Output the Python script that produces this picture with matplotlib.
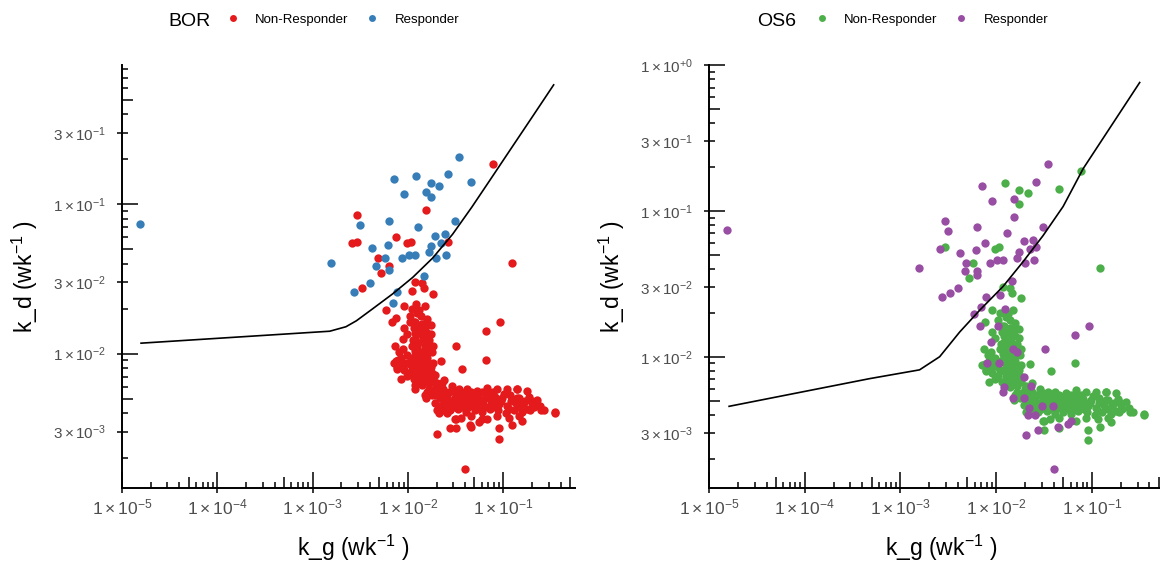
import numpy as np
import matplotlib
matplotlib.use("Agg")
import matplotlib.pyplot as plt
from matplotlib.lines import Line2D
from matplotlib.ticker import NullLocator

plt.rcParams['font.family'] = ['Liberation Sans', 'DejaVu Sans']
plt.rcParams['mathtext.fontset'] = 'custom'
plt.rcParams['mathtext.rm'] = 'Liberation Sans'
plt.rcParams['mathtext.it'] = 'Liberation Sans:italic'
plt.rcParams['mathtext.bf'] = 'Liberation Sans:bold'

# Data: log10 of growth (k_g) and decay (k_d) rates
# responder flags: 1 = Responder, 0 = Non-Responder
log_kg = [
    # scattered points in the upper part
    -4.81, -1.46, -1.11, -2.15, -1.91, -1.58, -1.34, -1.76, -1.67, -2.04,
    -1.81, -1.76, -2.20, -2.53, -2.50, -1.89, -1.51, -1.81, -2.38, -2.21,
    -1.71, -1.61, -1.76, -1.65, -2.59, -2.53, -2.12, -2.01, -1.97, -1.58,
    -2.81, -2.24, -2.31, -2.33, -2.20, -2.28, -2.20, -2.06, -1.99, -1.93,
    -1.78, -1.70, -1.60, -0.91, -1.83, -2.40, -2.48, -2.57, -2.11, -1.93,
    -1.85, -1.83, -1.96, -1.74, -2.16, -1.91, -2.23, -1.90, -2.17, -2.12,
    -1.03, -2.04, -1.98, -1.92, -1.85, -1.18,
    # dense cluster, vertical part
    -2.04, -1.96, -1.88, -1.82, -1.98, -1.86, -1.80, -1.94, -1.88, -1.82,
    -1.76, -2.01, -1.92, -1.84, -1.78,
    -2.13, -2.05, -1.96, -1.90, -1.84, -1.75, -2.09, -2.01, -1.92, -1.86,
    -1.80, -2.15, -2.07, -1.88, -1.81, -1.74,
    -2.11, -2.04, -1.96, -1.90, -1.84, -1.78, -2.01, -1.94, -1.88, -1.81,
    -1.74, -2.07, -1.69, -1.62,
    # dense cluster, horizontal part
    -1.78, -1.70, -1.63, -1.54, -1.46, -1.38, -1.27, -1.17, -1.06, -0.96,
    -0.85, -0.75,
    -1.75, -1.59, -1.50, -1.43, -1.35, -1.26, -1.18, -1.09, -1.01, -0.93,
    -0.83, -0.73, -0.64,
    -1.71, -1.62, -1.57, -1.46, -1.36, -1.29, -1.21, -1.13, -1.04, -0.96,
    -0.87, -0.79, -0.70, -0.61,
    -1.63, -1.56, -1.47, -1.39, -1.30, -1.22, -1.14, -1.05, -0.97, -0.89,
    -0.80, -0.72, -0.57, -0.46,
    -1.50, -1.44, -1.34, -1.17, -1.06, -0.94, -0.83,
    -1.50, -1.04, -1.04, -0.91, -0.80,
    -1.65, -1.43, -1.18, -0.85, -0.60,
    # cluster points that are OS6 responders
    -2.05, -1.82, -1.78, -1.49, -2.10, -1.97, -1.71, -1.92, -1.93, -1.64,
    -1.82, -1.71, -1.66, -1.59, -1.67, -1.52, -1.41, -1.35, -1.25, -1.22,
    -1.69, -1.56, -1.40,
    # more points inside the dense cluster
    -1.94, -1.89, -1.83, -1.76, -1.92, -1.86, -1.80, -1.95, -1.89, -1.81,
    -1.74, -1.93, -1.87, -1.79, -1.95, -1.90, -1.83, -1.76, -1.92, -1.86,
    -1.80, -1.98, -1.90, -1.83, -1.75,
    -2.12, -2.07, -2.02, -2.11, -2.05, -1.98,
    -1.85, -1.78, -1.71, -1.80, -1.73, -1.67, -1.62, -1.66, -1.60,
    -1.63, -1.57, -1.51, -1.45, -1.40, -1.34, -1.28, -1.22, -1.16, -1.11,
    -1.60, -1.53, -1.48, -1.43, -1.37, -1.31, -1.25, -1.19, -1.14, -1.08,
    -1.58, -1.51, -1.45, -1.39, -1.33, -1.27, -1.21, -1.15, -1.08, -1.02,
    -0.99, -0.92, -0.85, -0.77, -0.68, -0.75, -0.94, -0.83,
    -1.51, -1.34, -1.69, -1.81, -0.70, -0.46,
]
log_kd = [
    -1.13, -0.68, -0.73, -0.83, -0.81, -0.80, -0.85, -0.86, -0.88, -0.93,
    -0.92, -0.95, -1.11, -1.07, -1.14, -1.15, -1.11, -1.04, -1.29, -1.27,
    -1.21, -1.20, -1.28, -1.26, -1.26, -1.25, -1.22, -1.26, -1.25, -1.25,
    -1.39, -1.36, -1.36, -1.41, -1.41, -1.46, -1.44, -1.36, -1.34, -1.34,
    -1.32, -1.36, -1.34, -1.39, -1.48, -1.53, -1.56, -1.59, -1.59, -1.52,
    -1.53, -1.56, -1.58, -1.60, -1.66, -1.67, -1.71, -1.73, -1.79, -1.76,
    -1.79, -1.83, -1.79, -1.79, -1.80, -1.85,
    -1.68, -1.70, -1.71, -1.68, -1.75, -1.75, -1.77, -1.83, -1.85, -1.83,
    -1.87, -1.87, -1.90, -1.90, -1.91,
    -1.95, -1.97, -1.95, -1.96, -1.99, -1.99, -1.99, -2.01, -2.01, -2.03,
    -2.03, -2.06, -2.07, -2.06, -2.07, -2.06,
    -2.10, -2.11, -2.10, -2.13, -2.11, -2.15, -2.15, -2.17, -2.18, -2.19,
    -2.17, -2.17, -2.20, -2.18,
    -2.24, -2.22, -2.24, -2.22, -2.24, -2.24, -2.25, -2.23, -2.24, -2.24,
    -2.24, -2.25,
    -2.28, -2.29, -2.28, -2.30, -2.28, -2.30, -2.28, -2.29, -2.30, -2.28,
    -2.30, -2.29, -2.31,
    -2.33, -2.32, -2.32, -2.32, -2.32, -2.33, -2.34, -2.32, -2.34, -2.35,
    -2.33, -2.34, -2.33, -2.35,
    -2.38, -2.38, -2.37, -2.39, -2.38, -2.39, -2.37, -2.38, -2.40, -2.38,
    -2.39, -2.38, -2.38, -2.39,
    -2.44, -2.43, -2.42, -2.44, -2.42, -2.43, -2.42,
    -2.50, -2.50, -2.57, -2.48, -2.45,
    -2.05, -2.10, -2.04, -2.24, -2.38,
    -1.90, -1.95, -1.97, -1.95, -2.04, -2.04, -2.14, -2.21, -2.24, -2.20,
    -2.28, -2.28, -2.35, -2.40, -2.40, -2.34, -2.34, -2.48, -2.46, -2.44,
    -2.54, -2.50, -2.77,
    -1.79, -1.81, -1.80, -1.81, -1.86, -1.87, -1.86, -1.91, -1.93, -1.93,
    -1.95, -1.98, -1.99, -1.98, -2.03, -2.05, -2.05, -2.09, -2.09, -2.10,
    -2.11, -2.13, -2.15, -2.15, -2.13,
    -2.05, -2.03, -2.06, -2.09, -2.09, -2.07,
    -2.21, -2.20, -2.24, -2.26, -2.26, -2.25, -2.26, -2.30, -2.30,
    -2.27, -2.26, -2.25, -2.27, -2.26, -2.26, -2.28, -2.26, -2.26, -2.26,
    -2.36, -2.36, -2.34, -2.36, -2.36, -2.35, -2.36, -2.36, -2.35, -2.36,
    -2.31, -2.30, -2.31, -2.30, -2.30, -2.32, -2.31, -2.30, -2.31, -2.32,
    -2.27, -2.32, -2.30, -2.32, -2.36, -2.37, -2.37, -2.36,
    -2.44, -2.49, -2.38, -2.30, -2.32, -2.40,
]
bor_resp = [
    1, 1, 0, 1, 1, 1, 1, 1, 1, 1, 1, 1, 1, 0, 1, 1, 1, 0, 1, 1,
    1, 1, 1, 1, 0, 0, 0, 0, 0, 0, 1, 1, 0, 1, 0, 0, 1, 1, 1, 1,
    1, 1, 1, 0, 1, 1, 0, 1, 1, 0, 0, 0, 0, 0, 1, 0, 0, 0, 0, 0,
    0, 0, 0, 0, 0, 0,
] + [0] * 115 + [0] * 23 + [0] * 84
os6_resp = [
    1, 1, 0, 1, 0, 1, 0, 0, 0, 1, 1, 0, 1, 1, 1, 1, 1, 1, 1, 1,
    1, 1, 1, 1, 1, 0, 1, 0, 0, 1, 1, 0, 1, 1, 1, 0, 1, 1, 1, 1,
    1, 1, 1, 0, 1, 1, 1, 1, 1, 0, 0, 0, 1, 0, 1, 1, 1, 0, 1, 0,
    1, 0, 1, 0, 0, 1,
] + [0] * 115 + [1] * 23 + [0] * 84

# fitted boundary curves (log10 k_g, log10 k_d)
bor_curve_x = [-4.80, -2.82, -2.65, -2.54, -2.37, -2.16, -1.95, -1.74, -1.53, -1.33, -1.13, -0.91, -0.70, -0.47]
bor_curve_y = [-1.93, -1.85, -1.82, -1.78, -1.70, -1.60, -1.49, -1.36, -1.20, -1.02, -0.83, -0.62, -0.42, -0.20]
os6_curve_x = [-4.79, -3.32, -2.80, -2.59, -2.38, -2.17, -1.93, -1.72, -1.51, -1.30, -1.09, -0.88, -0.50]
os6_curve_y = [-2.34, -2.15, -2.09, -2.00, -1.83, -1.68, -1.52, -1.35, -1.17, -0.97, -0.71, -0.50, -0.12]

x_labels = [r'$1\times10^{-5}$', r'$1\times10^{-4}$', r'$1\times10^{-3}$',
            r'$1\times10^{-2}$', r'$1\times10^{-1}$']
x_ticks = [1e-5, 1e-4, 1e-3, 1e-2, 1e-1]
y_ticks = [3e-3, 1e-2, 3e-2, 1e-1, 3e-1, 1.0]
y_labels = [r'$3\times10^{-3}$', r'$1\times10^{-2}$', r'$3\times10^{-2}$',
            r'$1\times10^{-1}$', r'$3\times10^{-1}$', r'$1\times10^{+0}$']

RED, BLUE, GREEN, PURPLE = '#E41A1C', '#377EB8', '#4DAF4A', '#984EA3'

kg = 10 ** np.array(log_kg)
kd = 10 ** np.array(log_kd)


def add_logticks(ax, w_px, h_px):
    # ggplot style annotation_logticks drawn inwards from the axis lines
    mult = np.arange(1, 10)
    lens = np.where(mult == 1, 16, np.where(mult == 5, 11, 6))
    xs, xl = [], []
    for d in range(-5, 1):
        for m, ln in zip(mult, lens):
            xs.append(m * 10.0 ** d)
            xl.append(ln / h_px)
    lo, hi = ax.get_xlim()
    keep = [(x, l) for x, l in zip(xs, xl) if lo * 0.999 <= x <= hi]
    ax.vlines([k[0] for k in keep], 0, [k[1] for k in keep],
              transform=ax.get_xaxis_transform(), color='black', lw=1.1, clip_on=False)
    ys, yl = [], []
    for d in range(-4, 1):
        for m, ln in zip(mult, lens):
            ys.append(m * 10.0 ** d)
            yl.append(ln / w_px)
    lo, hi = ax.get_ylim()
    keep = [(y, l) for y, l in zip(ys, yl) if lo <= y <= hi * 1.001]
    ax.hlines([k[0] for k in keep], 0, [k[1] for k in keep],
              transform=ax.get_yaxis_transform(), color='black', lw=1.1, clip_on=False)


def draw_panel(ax, resp, c_nr, c_r, cx, cy, ymax, w_px, title, title_x):
    resp = np.array(resp)
    ax.scatter(kg[resp == 0], kd[resp == 0], s=36, color=c_nr, linewidths=0, zorder=3)
    ax.scatter(kg[resp == 1], kd[resp == 1], s=36, color=c_r, linewidths=0, zorder=3)
    ax.plot(10 ** np.array(cx), 10 ** np.array(cy), color='black', lw=1.2, zorder=4)
    ax.set_xscale('log')
    ax.set_yscale('log')
    ax.xaxis.set_minor_locator(NullLocator())
    ax.yaxis.set_minor_locator(NullLocator())
    ax.set_xticks(x_ticks, labels=x_labels)
    yt = [(t, l) for t, l in zip(y_ticks, y_labels) if t <= ymax * 1.001]
    ax.set_yticks([t for t, _ in yt], labels=[l for _, l in yt])
    ax.set_xlim(1e-5, 10 ** -0.246)
    ax.set_ylim(10 ** -2.9, ymax)
    for s in ['top', 'right']:
        ax.spines[s].set_visible(False)
    for s in ['left', 'bottom']:
        ax.spines[s].set_linewidth(1.4)
    ax.tick_params(direction='out', length=3.5, width=1.1, color='black',
                   labelcolor='#4D4D4D')
    ax.tick_params(axis='y', pad=8, labelsize=11)
    ax.tick_params(axis='x', pad=3, labelsize=12.5)
    ax.set_xlabel(r'k_g (wk$^{-1}$ )', fontsize=16.5)
    ax.set_ylabel(r'k_d (wk$^{-1}$ )', fontsize=16.5)
    ax.xaxis.set_label_coords(0.51, -0.105)
    ax.yaxis.set_label_coords(-0.18, 0.5)
    add_logticks(ax, w_px, 423)

    handles = [Line2D([], [], ls='none', marker='o', ms=5, color=c_nr, mec='none'),
               Line2D([], [], ls='none', marker='o', ms=5, color=c_r, mec='none')]
    fig.text(title_x / 1160, 1 - 21 / 562, title, fontsize=14, ha='left', va='center')
    fig.legend(handles, ['Non-Responder', 'Responder'], ncol=2, frameon=False,
               loc='center left', bbox_to_anchor=((title_x + 58) / 1160, 1 - 20 / 562),
               fontsize=9.5, handlelength=1.0, handletextpad=1.2, columnspacing=1.3,
               borderpad=0, borderaxespad=0)


fig = plt.figure(figsize=(11.6, 5.62), dpi=100)
ax1 = fig.add_axes([122 / 1160, 74 / 562, 453 / 1160, 423 / 562])
ax2 = fig.add_axes([709 / 1160, 74 / 562, 455 / 1160, 423 / 562])

draw_panel(ax1, bor_resp, RED, BLUE, bor_curve_x, bor_curve_y, 10 ** -0.067, 453, 'BOR', 168)
draw_panel(ax2, os6_resp, GREEN, PURPLE, os6_curve_x, os6_curve_y, 1.0, 455, 'OS6', 757)

fig.savefig('out.png', dpi=100)
